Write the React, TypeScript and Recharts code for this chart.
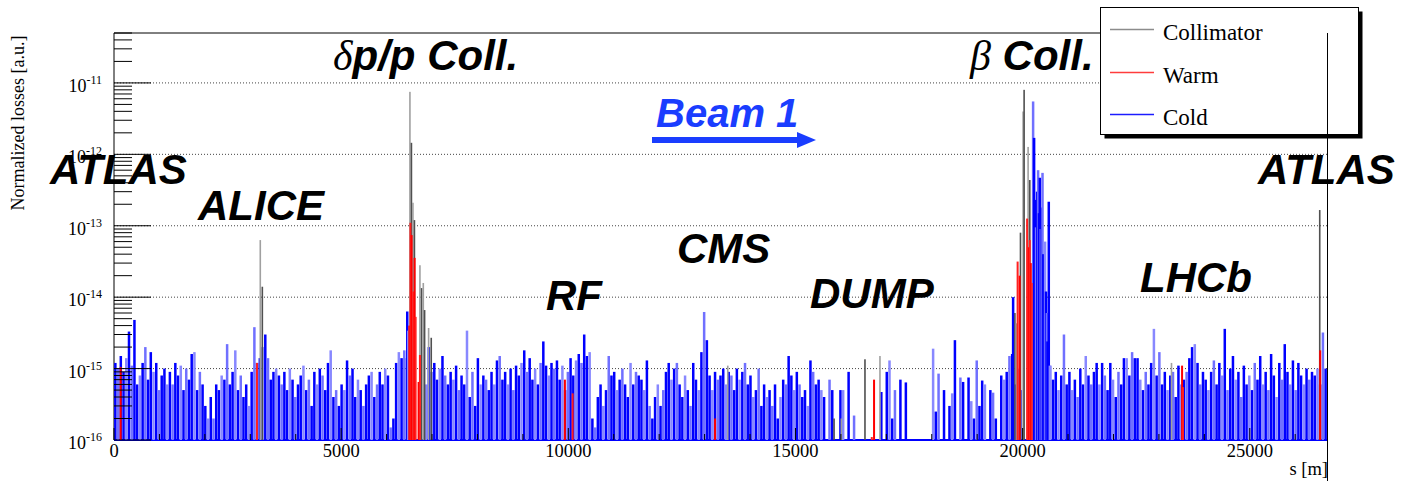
import React from 'react';
import { ScatterChart, Scatter, XAxis, YAxis, ReferenceLine, Legend } from 'recharts';

// cold-magnet losses in 60 m bins along s, in units of 1e-16 (0 = no loss)
const BIN_WIDTH_M = 60;
const coldBins = [
  // 0 - 1200 m
  12, 10, 15, 9, 14, 33, 11, 48, 6, 8, 12, 20, 7, 17, 9, 12, 5, 8, 10, 6,
  // 1200 - 2400
  9, 6, 12, 8, 11, 5, 10, 7, 16, 17, 5, 9, 6, 3, 2, 4, 2, 6, 5, 8,
  // 2400 - 3600
  7, 22, 6, 9, 18, 5, 8, 4, 6, 3, 9, 38, 12, 14, 20, 30, 14, 7, 9, 10,
  // 3600 - 4800
  8, 6, 9, 5, 10, 7, 4, 6, 8, 11, 5, 7, 3, 9, 6, 10, 8, 5, 12, 18,
  // 4800 - 6000
  4, 5, 3, 6, 5, 13, 8, 10, 4, 7, 5, 3, 6, 8, 9, 4, 6, 9, 6, 10,
  // 6000 - 7200
  8, 1.5, 2, 12, 17, 14, 18, 14, 0, 0, 0, 0, 3, 0, 6, 20, 9, 12, 7, 10,
  // 7200 - 8400
  15, 8, 6, 9, 7, 11, 5, 8, 6, 34, 4, 9, 3, 14, 6, 8, 7, 5, 9, 6,
  // 8400 - 9600
  13, 15, 7, 9, 6, 10, 5, 11, 8, 12, 18, 9, 14, 7, 10, 6, 12, 24, 11, 8,
  // 9600 - 10800
  12, 10, 13, 7, 11, 5, 9, 14, 8, 13, 16, 12, 30, 15, 17, 2, 1.5, 4, 6, 3,
  // 10800 - 12000
  5, 15, 8, 9, 5, 7, 10, 6, 4, 12, 6, 9, 8, 7, 5, 13, 3, 2, 4, 6,
  // 12000 - 13200
  3, 5, 9, 12, 7, 10, 12, 6, 4, 8, 5, 3, 12, 7, 5, 17, 62, 25, 8, 5,
  // 13200 - 14400
  9, 7, 8, 10, 6, 9, 8, 5, 10, 7, 9, 12, 6, 8, 4, 5, 10, 3, 6, 4,
  // 14400 - 15600
  5, 3, 6, 2, 4, 7, 6, 15, 8, 5, 9, 6, 4, 5, 3, 13, 9, 6, 7, 5,
  // 15600 - 16800
  4, 0, 7, 5, 0, 0, 5, 5, 0, 9, 0, 2.2, 0, 0, 0, 0, 0, 0, 0, 0,
  // 16800 - 18000
  0, 4.7, 0, 9, 13, 2, 5, 0, 7, 0, 6.4, 0, 0, 0, 0, 0, 0, 0, 0, 0,
  // 18000 - 19200
  19, 2.5, 8.5, 0, 5, 0, 3, 4.5, 25, 0, 7.5, 6.5, 0, 7.5, 3.5, 2, 13, 3, 6.8, 6,
  // 19200 - 20400
  0, 5, 4.6, 2, 0, 8, 7, 9, 15, 16, 6, 10, 5, 0, 0, 0, 0, 0, 0, 0,
  // 20400 - 21600
  0, 0, 0, 11, 7, 9, 5, 8, 30, 6, 9, 5, 7, 4, 10, 6, 15, 8, 6, 9,
  // 21600 - 22800
  12, 6, 12, 8, 5, 12, 7, 4, 9, 6, 14, 14, 8, 17, 14, 14, 7, 5, 9, 6,
  // 22800 - 24000
  12, 36, 8, 17, 6, 9, 5, 8, 9, 4, 11, 6, 7, 9, 14, 20, 22, 12, 6, 9,
  // 24000 - 25200
  7, 5, 9, 13, 6, 12, 8, 36, 5, 10, 15, 7, 9, 4, 11, 6, 8, 5, 12, 7,
  // 25200 - 26400
  15, 6, 9, 5, 16, 8, 4, 12, 7, 22, 9, 6, 13, 5, 12, 8, 6, 10, 7, 9,
  // 26400 - 26700
  8, 10, 6, 32, 10,
];

// isolated cold spikes near the collimation insertions: [s (m), loss x 1e-16]
const coldSpikes: [number, number][] = [
  [6455, 63], [6475, 34], [19791, 100],
  [20231, 55000], [20253, 17000], [20275, 2300], [20297, 950], [20319, 3000],
  [20341, 6000], [20360, 1500], [20379, 4700], [20400, 900], [20420, 1800],
  [20438, 5500], [20456, 400], [20473, 217], [20495, 600], [20515, 120],
  [20535, 60], [20547, 24], [20576, 2170], [20600, 11],
];

const collimatorSpikes: [number, number][] = [
  [3220, 630], [3265, 140],
  [6514, 75000], [6547, 14500], [6580, 2100], [6613, 1200], [6734, 280],
  [6771, 134], [6808, 158], [6837, 66], [6925, 37], [6983, 27],
  [13510, 11], [15850, 2], [16010, 2], [16530, 13.5], [16860, 15],
  [19830, 60], [19865, 43], [19953, 800], [20011, 39800], [20033, 80000],
  [20121, 12700], [20158, 4370],
  [23277, 12], [26540, 1660],
];

const warmSpikes: [number, number][] = [
  [147, 10.5], [3147, 12],
  [6500, 40], [6525, 1100], [6551, 740], [6590, 120], [6617, 355], [6639, 53],
  [6705, 6.5], [6734, 15.5],
  [9925, 7], [10095, 4.5], [13230, 2], [16680, 1.1], [16730, 7],
  [19890, 315], [19935, 200], [20099, 1260], [20140, 500], [20158, 630],
  [20180, 300], [20202, 158],
  [23510, 11], [23530, 5.5], [26550, 18],
];

const xTickValues = [
  0, 1000, 2000, 3000, 4000, 5000, 6000, 7000, 8000, 9000, 10000, 11000, 12000, 13000,
  14000, 15000, 16000, 17000, 18000, 19000, 20000, 21000, 22000, 23000, 24000, 25000, 26000,
];
const xLabelValues = [0, 5000, 10000, 15000, 20000, 25000];
const yDecades = [-16, -15, -14, -13, -12, -11];
const yMinorSteps = [2, 3, 4, 5, 6, 7, 8, 9];

const legendItems = [
  { name: 'Collimator', color: '#8c8c8c' },
  { name: 'Warm', color: '#ff3c3c' },
  { name: 'Cold', color: '#1c1cff' },
];

const UNIT = 1e-16;
const toRows = (pairs: [number, number][]) => pairs.map(([s, v]) => ({ s, v: v * UNIT }));

const coldData = [
  ...coldBins
    .map((v, i) => ({ s: i * BIN_WIDTH_M + BIN_WIDTH_M / 2, v: v * UNIT }))
    .filter((d) => d.v > 0),
  ...toRows(coldSpikes),
];
const collimatorData = toRows(collimatorSpikes);
const warmData = toRows(warmSpikes);

const yTickValues: number[] = [];
yDecades.forEach((d) => {
  yTickValues.push(Math.pow(10, d));
  yMinorSteps.forEach((k) => {
    const v = k * Math.pow(10, d);
    if (v < 5e-11) yTickValues.push(v);
  });
});

const W = 1404;
const H = 482;
const PLOT_LEFT = 114;
const PLOT_TOP = 33;
const PLOT_RIGHT = 1327;
const PLOT_BOTTOM = 440;

const SERIF = '"Liberation Serif", "Times New Roman", serif';
const SANS = '"Liberation Sans", Arial, sans-serif';
const BEAM_BLUE = '#1a3dff';

const spike = (colors: string[], w: number) => (props: any) => {
  const { cx, cy } = props;
  if (!Number.isFinite(cx) || !Number.isFinite(cy)) return <g />;
  const i = props.index ?? Math.round((props.payload?.s ?? 0) / BIN_WIDTH_M);
  return (
    <rect
      x={cx - w / 2}
      y={cy}
      width={w}
      height={Math.max(0, PLOT_BOTTOM - cy)}
      fill={colors[i % colors.length]}
    />
  );
};

const YTick = (props: any) => {
  const { y, payload } = props;
  const v = payload.value as number;
  const exp = Math.round(Math.log10(v));
  const major = Math.abs(v / Math.pow(10, exp) - 1) < 1e-6;
  return (
    <g>
      <line x1={PLOT_LEFT} x2={PLOT_LEFT + (major ? 37 : 18)} y1={y} y2={y} stroke="#000" strokeWidth={1} />
      {major && (
        <text x={PLOT_LEFT - 12} y={y + 9} textAnchor="end" fontFamily={SERIF} fontSize={18} fill="#000">
          10
          <tspan dy={-8} fontSize={12}>
            {exp}
          </tspan>
        </text>
      )}
    </g>
  );
};

const XTick = (props: any) => {
  const { x, payload } = props;
  const major = xLabelValues.includes(payload.value);
  return (
    <g>
      <line x1={x} x2={x} y1={PLOT_BOTTOM} y2={PLOT_BOTTOM - (major ? 12 : 6)} stroke="#000" />
      {major && (
        <text x={x} y={457} textAnchor="middle" fontFamily={SERIF} fontSize={18.5} fill="#000">
          {payload.value}
        </text>
      )}
    </g>
  );
};

const LegendBox = () => (
  <svg width={264} height={133} style={{ display: 'block' }}>
    <rect x={4.5} y={4.5} width={258} height={127} fill="#000" />
    <rect x={0.5} y={0.5} width={258} height={127} fill="#fff" stroke="#000" />
    {legendItems.map((it, i) => {
      const ly = Math.round(22 + i * 42.5) + 0.5;
      return (
        <g key={it.name}>
          <line x1={10} x2={54} y1={ly} y2={ly} stroke={it.color} strokeWidth={1.5} />
          <text x={63} y={ly + 10} fontFamily={SERIF} fontSize={23} fill="#000">
            {it.name}
          </text>
        </g>
      );
    })}
  </svg>
);

const Tag = ({ x, y, children, fill = '#000', size = 42 }: any) => (
  <text x={x} y={y} fontFamily={SANS} fontWeight="bold" fontStyle="italic" fontSize={size} fill={fill}>
    {children}
  </text>
);

export default function App() {
  return (
    <div style={{ position: 'relative', width: W, height: H, background: '#fff' }}>
      <style>{'body{margin:0;background:#fff}'}</style>
      <ScatterChart width={W} height={H} margin={{ top: PLOT_TOP, right: W - PLOT_RIGHT, bottom: 0, left: 0 }}>
        <Scatter data={coldData} isAnimationActive={false} shape={spike(['#0000ff', '#7070ff', '#0000ff', '#0000ff', '#8888ff'], 2.5)} />
        <Scatter data={collimatorData} isAnimationActive={false} shape={spike(['#a0a0a0', '#505050'], 1.6)} />
        <Scatter data={warmData} isAnimationActive={false} shape={spike(['#ff0000', '#ff2020'], 2)} />
        {yDecades.slice(1).map((d) => (
          <ReferenceLine key={d} y={Math.pow(10, d)} stroke="#444" strokeDasharray="1 2" />
        ))}
        <ReferenceLine y={5e-11} stroke="#000" />
        <XAxis
          dataKey="s"
          type="number"
          domain={[0, 26700]}
          allowDataOverflow
          ticks={xTickValues}
          interval={0}
          height={H - PLOT_BOTTOM}
          tickLine={false}
          axisLine={{ stroke: '#0000ff', strokeWidth: 2 }}
          tick={(p: any) => <XTick {...p} />}
        />
        <YAxis
          dataKey="v"
          type="number"
          scale="log"
          domain={[1e-16, 5e-11]}
          allowDataOverflow
          ticks={yTickValues}
          interval={0}
          width={PLOT_LEFT}
          tickLine={false}
          axisLine={{ stroke: '#000' }}
          tick={(p: any) => <YTick {...p} />}
        />
        <Legend
          layout="horizontal"
          verticalAlign="middle"
          align="center"
          wrapperStyle={{ left: 1100, top: 7, width: 264, height: 133 }}
          content={() => <LegendBox />}
        />
      </ScatterChart>
      <svg width={W} height={H} style={{ position: 'absolute', left: 0, top: 0, pointerEvents: 'none' }}>
        <line x1={PLOT_RIGHT + 0.5} y1={PLOT_TOP} x2={PLOT_RIGHT + 0.5} y2={481} stroke="#000" />
        <text
          transform="translate(24,123) rotate(-90)"
          textAnchor="middle"
          fontFamily={SERIF}
          fontSize={18}
          fill="#000"
        >
          Normalized losses [a.u.]
        </text>
        <text x={1328} y={475} textAnchor="end" fontFamily={SERIF} fontSize={18.5} fill="#000">
          s [m]
        </text>
        <Tag x={50} y={184}>ATLAS</Tag>
        <Tag x={198} y={220}>ALICE</Tag>
        <Tag x={333} y={70}>
          <tspan fontFamily={SERIF} fontWeight="normal">δ</tspan>p/p Coll.
        </Tag>
        <Tag x={546} y={310}>RF</Tag>
        <Tag x={677} y={263}>CMS</Tag>
        <Tag x={810} y={308}>DUMP</Tag>
        <Tag x={970} y={70}>
          <tspan fontFamily={SERIF} fontWeight="normal">β</tspan> Coll.
        </Tag>
        <Tag x={1140} y={292}>LHCb</Tag>
        <Tag x={1258} y={184}>ATLAS</Tag>
        <Tag x={656} y={127} size={40} fill={BEAM_BLUE}>Beam 1</Tag>
        <line x1={652} y1={140} x2={800} y2={140} stroke={BEAM_BLUE} strokeWidth={6} />
        <polygon points="797,132 816,140 797,148" fill={BEAM_BLUE} />
      </svg>
    </div>
  );
}
